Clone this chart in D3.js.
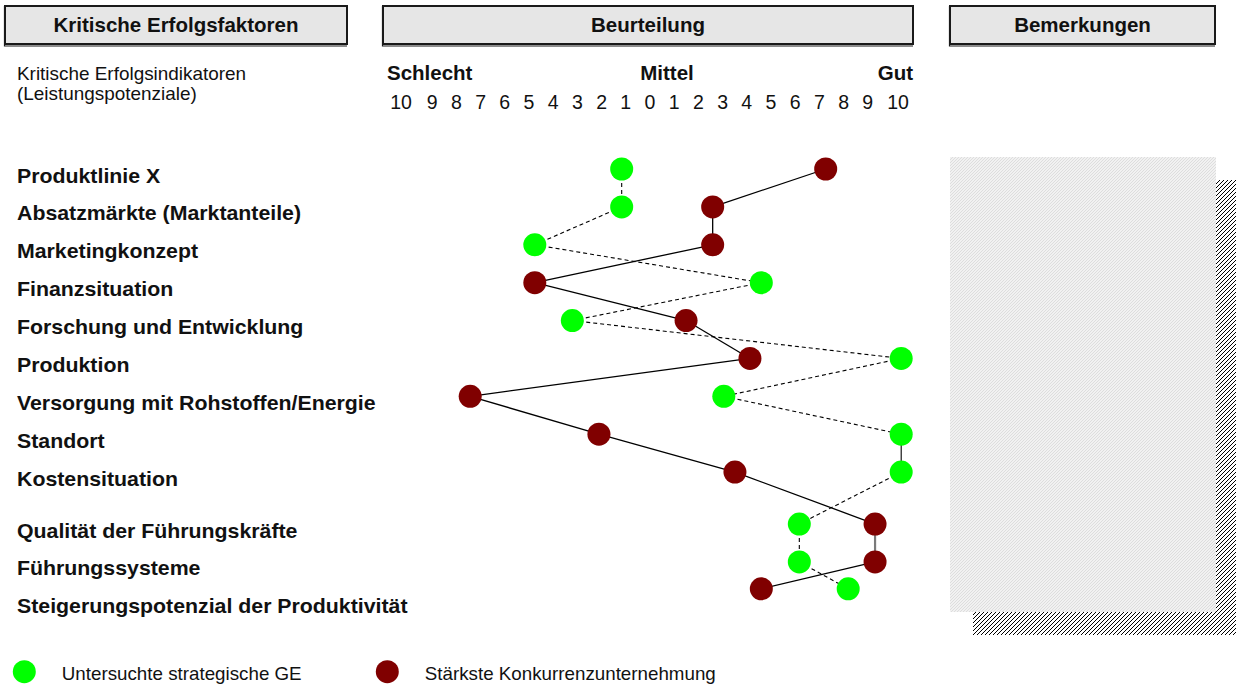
<!DOCTYPE html>
<html>
<head>
<meta charset="utf-8">
<script src="https://cdn.jsdelivr.net/npm/d3@7/dist/d3.min.js"></script>
<style>
  html, body { margin: 0; padding: 0; background: #fff; }
  svg { display: block; font-family: "Liberation Sans", Arial, Helvetica, sans-serif; }
</style>
</head>
<body>
<svg id="chart" width="1236" height="688"></svg>
<script>
// Kritische Erfolgsfaktoren – Stärken-/Schwächenprofil
const factors = [
  "Produktlinie X",
  "Absatzmärkte (Marktanteile)",
  "Marketingkonzept",
  "Finanzsituation",
  "Forschung und Entwicklung",
  "Produktion",
  "Versorgung mit Rohstoffen/Energie",
  "Standort",
  "Kostensituation",
  "Qualität der Führungskräfte",
  "Führungssysteme",
  "Steigerungspotenzial der Produktivität"
];

// Beurteilung: negative = schlecht, 0 = mittel, positive = gut
const geScores    = [-1.17, -1.17, -4.76, 4.6, -3.21, 10.38, 3.05, 10.38, 10.38, 6.17, 6.17, 8.19];
const rivalScores = [7.26, 2.59, 2.59, -4.76, 1.49, 4.13, -7.43, -2.11, 3.51, 9.3, 9.3, 4.6];

const scaleTicks = [-10, -9, -8, -7, -6, -5, -4, -3, -2, -1, 0, 1, 2, 3, 4, 5, 6, 7, 8, 9, 10];
const scaleWords = [
  { v: -10, text: "Schlecht", anchor: "start" },
  { v: 0,   text: "Mittel",   anchor: "middle" },
  { v: 10,  text: "Gut",      anchor: "end" }
];

const headers = ["Kritische Erfolgsfaktoren", "Beurteilung", "Bemerkungen"];
const subHeader = ["Kritische Erfolgsindikatoren", "(Leistungspotenziale)"];
const legendItems = ["Untersuchte strategische GE", "Stärkste Konkurrenzunternehmung"];

const GREEN = "#00ff00";
const DARKRED = "#800000";

const svg = d3.select("#chart");
const defs = svg.append("defs");

// fine light hatch for the remarks panel
const soft = defs.append("pattern")
  .attr("id", "softHatch").attr("patternUnits", "userSpaceOnUse")
  .attr("width", 3).attr("height", 3);
soft.append("rect").attr("width", 3).attr("height", 3).attr("fill", "#f1f1f1");
soft.append("path").attr("d", "M-1,1 l2,-2 M0,3 l3,-3 M2,4 l2,-2")
  .attr("stroke", "#dadada").attr("stroke-width", 0.9);

// black diagonal hatch for its shadow
const dark = defs.append("pattern")
  .attr("id", "darkHatch").attr("patternUnits", "userSpaceOnUse")
  .attr("width", 4).attr("height", 4);
dark.append("rect").attr("width", 4).attr("height", 4).attr("fill", "#fff");
dark.append("path").attr("d", "M-1,1 l2,-2 M0,4 l4,-4 M3,5 l2,-2")
  .attr("stroke", "#000").attr("stroke-width", 1)
  .attr("shape-rendering", "crispEdges");

// ---- header boxes ----
const boxX = d3.scaleOrdinal().domain(headers).range([5, 383, 950]);
const boxW = d3.scaleOrdinal().domain(headers).range([342, 530, 265]);
const hdr = svg.selectAll("g.hdr").data(headers).join("g").attr("class", "hdr");
hdr.append("rect")
  .attr("x", d => boxX(d)).attr("y", 6)
  .attr("width", d => boxW(d)).attr("height", 38)
  .attr("fill", "#e6e6e6").attr("stroke", "#1a1a1a").attr("stroke-width", 2);
hdr.append("path")
  .attr("d", d => `M${boxX(d) - 0.5},6 V46 H${boxX(d) + boxW(d)}`)
  .attr("fill", "none").attr("stroke", "#1a1a1a").attr("stroke-width", 1.2);
hdr.append("text")
  .attr("x", d => boxX(d) + boxW(d) / 2).attr("y", 32)
  .attr("text-anchor", "middle").attr("font-size", 20.5).attr("font-weight", "bold")
  .attr("fill", "#111").text(d => d);

svg.selectAll("text.sub").data(subHeader).join("text").attr("class", "sub")
  .attr("transform", (d, i) => `translate(17,${80 + i * 20}) scale(1.04,1)`)
  .attr("font-size", 18.2).attr("fill", "#111").text(d => d);

// ---- rating scale ----
const x = d3.scaleLinear().domain([-10, 10]).range([408, 892]);

svg.selectAll("text.word").data(scaleWords).join("text").attr("class", "word")
  .attr("x", d => x(d.v) + (d.v < 0 ? -21 : d.v > 0 ? 21 : 17))
  .attr("y", 80).attr("text-anchor", d => d.anchor)
  .attr("font-size", 20.5).attr("font-weight", "bold").attr("fill", "#111")
  .text(d => d.text);

svg.selectAll("text.tick").data(scaleTicks).join("text").attr("class", "tick")
  .attr("x", d => x(d) + (d === -10 ? -7 : d === 10 ? 6 : 0))
  .attr("y", 109).attr("text-anchor", "middle")
  .attr("font-size", 19.5).attr("fill", "#111")
  .text(d => Math.abs(d));

// ---- rows ----
// the leadership factors form a second block after a small gap
const blockGap = 0.37;
const slot = i => i + (i >= 9 ? blockGap : 0);
const yRow = d3.scaleLinear().domain([0, 11 + blockGap]).range([182.5, 613.3]);
// dot centres sit above the label baseline; the last row is lifted further
const dotY = i => yRow(slot(i)) - 13.5 - (i === 11 ? 11 : 0);

svg.selectAll("text.factor").data(factors).join("text").attr("class", "factor")
  .attr("transform", (d, i) => `translate(17,${yRow(slot(i))}) scale(1.05,1)`)
  .attr("font-size", 20.3).attr("font-weight", "bold").attr("fill", "#111")
  .text(d => d);

// ---- remarks panel ----
svg.append("rect").attr("x", 973).attr("y", 180).attr("width", 270).attr("height", 455)
  .attr("fill", "url(#darkHatch)");
svg.append("rect").attr("x", 950).attr("y", 157).attr("width", 266).attr("height", 455)
  .attr("fill", "url(#softHatch)");

// ---- profile lines ----
const links = arr => d3.range(arr.length - 1).map(i => ({ i, a: arr[i], b: arr[i + 1] }));

svg.append("g").selectAll("line").data(links(rivalScores)).join("line")
  .attr("x1", d => x(d.a)).attr("y1", d => dotY(d.i))
  .attr("x2", d => x(d.b)).attr("y2", d => dotY(d.i + 1))
  .attr("stroke", d => d.i === 9 ? "#7a7a7a" : "#000")
  .attr("stroke-width", d => d.i === 9 ? 2.2 : 1.3);

svg.append("g").selectAll("line").data(links(geScores)).join("line")
  .attr("x1", d => x(d.a)).attr("y1", d => dotY(d.i))
  .attr("x2", d => x(d.b)).attr("y2", d => dotY(d.i + 1))
  .attr("stroke", "#000").attr("stroke-width", 1.1)
  .attr("stroke-dasharray", d => d.i === 7 ? null : "4,3");

// ---- dots ----
const R = 11.5;
svg.append("g").selectAll("circle").data(geScores).join("circle")
  .attr("cx", d => x(d)).attr("cy", (d, i) => dotY(i)).attr("r", R)
  .attr("fill", GREEN);
svg.append("g").selectAll("circle").data(rivalScores).join("circle")
  .attr("cx", d => x(d)).attr("cy", (d, i) => dotY(i)).attr("r", R)
  .attr("fill", DARKRED);

// ---- legend ----
const legX = d3.scaleOrdinal().domain(legendItems).range([24.3, 387.3]);
const legColor = d3.scaleOrdinal().domain(legendItems).range([GREEN, DARKRED]);
const leg = svg.selectAll("g.leg").data(legendItems).join("g").attr("class", "leg");
leg.append("circle").attr("cx", d => legX(d)).attr("cy", 671.7).attr("r", R)
  .attr("fill", d => legColor(d));
leg.append("text")
  .attr("transform", d => `translate(${legX(d) + 37.5},680) scale(1.02,1)`)
  .attr("font-size", 18.4).attr("fill", "#111").text(d => d);
</script>
</body>
</html>
